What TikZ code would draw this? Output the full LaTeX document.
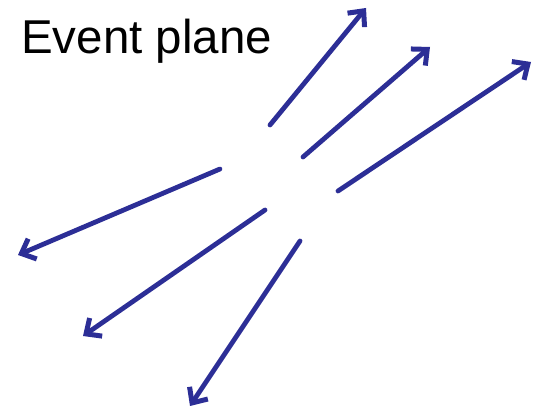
\documentclass[tikz,border=0pt]{standalone}
\usepackage{fontspec}
\setmainfont{Liberation Sans}
\usetikzlibrary{arrows.meta}
\definecolor{arrowblue}{RGB}{44,46,150}
\begin{document}
\begin{tikzpicture}[x=1pt,y=-1pt,
  ray/.style={draw=arrowblue,line width=4.8pt,line cap=round,
    -{Straight Barb[length=12pt,width=22pt,line width=5pt]}}]
\useasboundingbox (0,0) rectangle (533,411);
\node[anchor=base west,inner sep=0pt,font=\fontsize{47.5}{52}\selectfont] (title) at (21,53.5) {Event plane};
\coordinate (s1) at (270,125);
\coordinate (e1) at (366,8);
\coordinate (s2) at (303,157);
\coordinate (e2) at (430,47);
\coordinate (s3) at (338,191);
\coordinate (e3) at (531,62);
\coordinate (s4) at (220,169);
\coordinate (e4) at (18,255);
\coordinate (s5) at (265,210);
\coordinate (e5) at (83,336);
\coordinate (s6) at (300,241);
\coordinate (e6) at (190,406);
\draw[ray] (s1) -- (e1);
\draw[ray] (s2) -- (e2);
\draw[ray] (s3) -- (e3);
\draw[ray] (s4) -- (e4);
\draw[ray] (s5) -- (e5);
\draw[ray] (s6) -- (e6);
\end{tikzpicture}
\end{document}
